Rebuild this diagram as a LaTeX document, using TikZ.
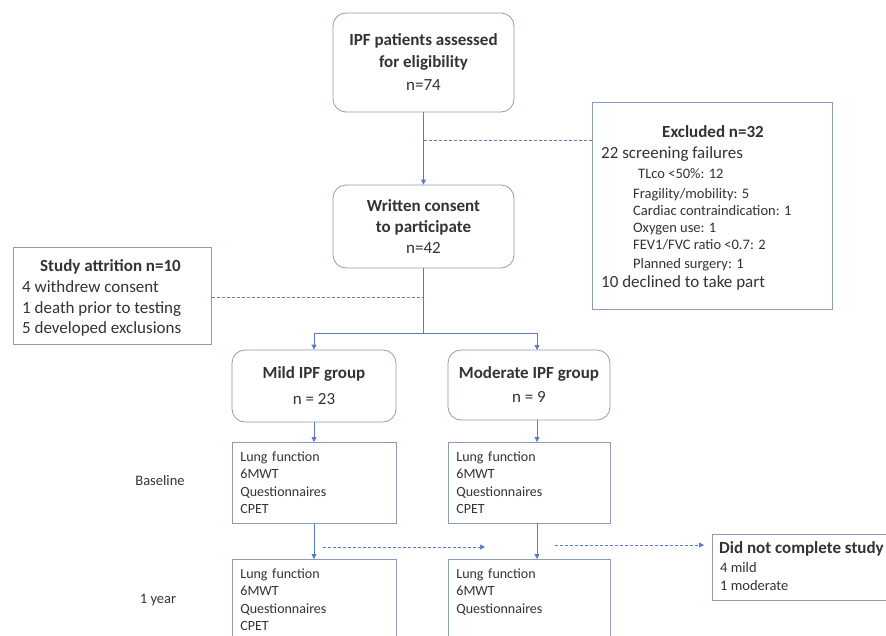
\documentclass[tikz,border=0pt]{standalone}
\usepackage{fontspec}
\setmainfont{Carlito}
\usetikzlibrary{arrows.meta}
\definecolor{boxc}{HTML}{8C9BB8}
\definecolor{linec}{HTML}{5A7BC4}
\definecolor{txt}{HTML}{333333}
\tikzset{
  rbox/.style={draw=boxc, line width=0.8pt, rounded corners=13pt, fill=white, align=center, text=txt, inner sep=0pt},
  sbox/.style={draw=boxc, line width=0.8pt, fill=white, text=txt, inner sep=0pt},
  conn/.style={draw=linec, line width=0.8pt, -{Triangle[length=5pt,width=5pt]}},
  plain/.style={draw=linec, line width=0.8pt},
  dconn/.style={draw=linec, line width=0.7pt, dash pattern=on 3pt off 2pt, -{Triangle[length=5pt,width=5pt]}},
  dline/.style={draw=linec!80!gray, line width=0.7pt, dash pattern=on 3pt off 2pt},
  ln/.style={text=txt, inner sep=0pt, anchor=base west},
  big/.style={font=\fontsize{17}{21}\selectfont},
  mid/.style={font=\fontsize{14.5}{18}\selectfont},
  sml/.style={font=\fontsize{14.5}{17}\selectfont},
}
\begin{document}
\begin{tikzpicture}[x=1pt,y=-1pt]
\useasboundingbox (0,0) rectangle (886,635);
\clip (0,0) rectangle (886,635);
% main boxes
\node[rbox, minimum width=181pt, minimum height=99pt, font=\fontsize{17}{22}\selectfont] (ipf) at (423.5,62.5)
  {\textbf{IPF patients assessed}\\\textbf{for eligibility}\\[1pt] n=74};
\node[rbox, minimum width=181pt, minimum height=83pt, font=\fontsize{17}{21}\selectfont] (consent) at (423.5,226.5)
  {\textbf{Written consent}\\\textbf{to participate}\\ n=42};
% excluded box
\node[sbox, minimum width=240pt, minimum height=207pt, anchor=north west] (excl) at (592,102) {};
\node[ln, big] (ex1) at (662,137) {\textbf{Excluded n=32}};
\node[ln, big] (ex2) at (601,158) {22 screening failures};
\node[ln, mid] (ex3) at (638,178) {TLco <50\%: 12};
\node[ln, mid] (ex4) at (633,198) {Fragility/mobility: 5};
\node[ln, mid] (ex5) at (633,215) {Cardiac contraindication: 1};
\node[ln, mid] (ex6) at (633,232) {Oxygen use: 1};
\node[ln, mid] (ex7) at (633,249) {FEV1/FVC ratio <0.7: 2};
\node[ln, mid] (ex8) at (633,268) {Planned surgery: 1};
\node[ln, big] (ex9) at (601,287) {10 declined to take part};
% attrition box
\node[sbox, minimum width=198pt, minimum height=97pt, anchor=north west] (attr) at (13,247) {};
\node[ln, big] (at1) at (40,271) {\textbf{Study attrition n=10}};
\node[ln, big] (at2) at (22,292) {4 withdrew consent};
\node[ln, big] (at3) at (22,313) {1 death prior to testing};
\node[ln, big] (at4) at (22,333) {5 developed exclusions};
% group boxes
\node[rbox, minimum width=164pt, minimum height=72pt, font=\fontsize{17}{26}\selectfont] (mild) at (314,386)
  {\textbf{Mild IPF group}\\ n = 23};
\node[rbox, minimum width=162pt, minimum height=70pt, font=\fontsize{17}{24}\selectfont] (mod) at (529,385)
  {\textbf{Moderate IPF group}\\ n = 9};
% baseline / 1 year boxes
\tikzset{test/.style={sbox, align=left, anchor=north west, inner xsep=8pt, inner ysep=0pt, font=\fontsize{14}{17.5}\selectfont}}
\node[test, minimum width=164pt, minimum height=81pt, text width=148pt] (bmild) at (232,442)
  {Lung function\\ 6MWT\\ Questionnaires\\ CPET};
\node[test, minimum width=162pt, minimum height=81pt, text width=146pt] (bmod) at (448,442)
  {Lung function\\ 6MWT\\ Questionnaires\\ CPET};
\node[test, minimum width=164pt, minimum height=81pt, text width=148pt] (ymild) at (232,559)
  {Lung function\\ 6MWT\\ Questionnaires\\ CPET};
\node[test, minimum width=162pt, minimum height=81pt, text width=146pt] (ymod) at (448,559)
  {Lung function\\ 6MWT\\ Questionnaires\\ \phantom{CPET}};
% did not complete
\node[sbox, minimum width=200pt, minimum height=66pt, anchor=north west] (dnc) at (712,534) {};
\node[ln, big] (dn1) at (719,553) {\textbf{Did not complete study}};
\node[ln, sml] (dn2) at (720,572) {4 mild};
\node[ln, sml] (dn3) at (720,590) {1 moderate};
% row labels
\node[text=txt, sml, inner sep=0pt] (lbase) at (160,481) {Baseline};
\node[text=txt, sml, inner sep=0pt] (lyear) at (158,600) {1 year};
% connectors
\draw[conn] (ipf.south) -- (consent.north);
\coordinate (j1) at (423.5,140);
\draw[dline] (j1) -- (j1 -| excl.west);
\coordinate (split) at (423.5,333);
\draw[plain] (consent.south) -- (split);
\coordinate (j2) at (423.5,297);
\draw[dline] (attr.east |- j2) -- (j2);
\draw[conn] (split) -| (mild.north);
\coordinate (modtop) at (537,350);
\draw[conn] (split) -| (modtop);
\draw[conn] (mild.south) -- (bmild.north -| mild.south);
\coordinate (modbot) at (537,420);
\coordinate (bmodtop) at (537,442);
\draw[conn] (modbot) -- (bmodtop);
\draw[conn] (bmild.south -| mild.south) -- (ymild.north -| mild.south);
\coordinate (bmodbot) at (537,523);
\coordinate (ymodtop) at (537,559);
\draw[conn] (bmodbot) -- (ymodtop);
\coordinate (d1s) at (323,547);
\coordinate (d1e) at (485,547);
\draw[dconn] (d1s) -- (d1e);
\coordinate (d2s) at (555,545);
\coordinate (d2e) at (704,545);
\draw[dconn] (d2s) -- (d2e);
\end{tikzpicture}
\end{document}
